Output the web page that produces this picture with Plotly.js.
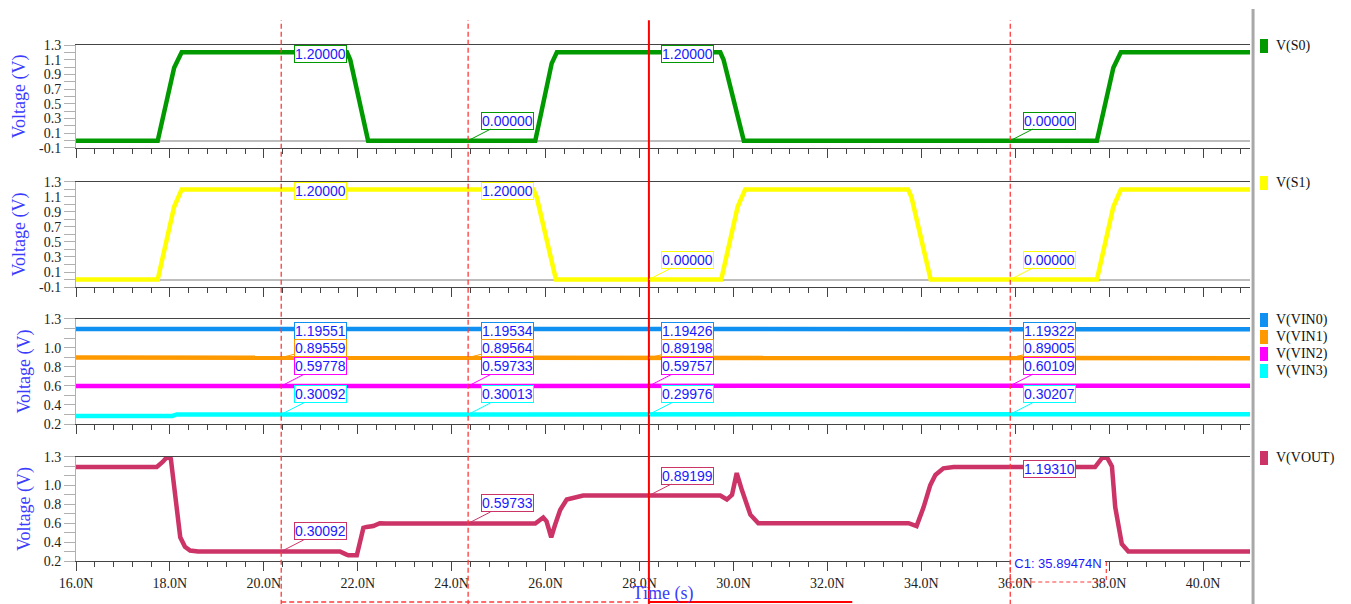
<!DOCTYPE html>
<html>
<head>
<meta charset="utf-8">
<script src="https://cdn.plot.ly/plotly-3.0.1.min.js"></script>
<style>html,body{margin:0;padding:0;background:#fff}#chart{width:1351px;height:604px}</style>
</head>
<body>
<div id="chart"></div>
<script>
// ---------- data (time in ns, voltage in V) ----------
const seriesNames = ['V(S0)', 'V(S1)', 'V(VIN0)', 'V(VIN1)', 'V(VIN2)', 'V(VIN3)', 'V(VOUT)'];
const seriesColors = ['#009a00', '#ffff00', '#1090f0', '#ff9900', '#ff00ff', '#00ffff', '#cc3366'];

const s0T = [16, 17.74, 18.09, 18.25, 21.77, 21.84, 22.22, 25.78, 26.13, 26.24, 29.72, 29.79, 30.22, 37.74, 38.09, 38.25, 41];
const s0V = [0, 0, 0.99, 1.2, 1.2, 1.1, 0, 0, 1.05, 1.2, 1.2, 1.1, 0, 0, 0.99, 1.2, 1.2];

const s1T = [16, 17.74, 18.09, 18.25, 25.74, 25.81, 26.22, 29.74, 30.09, 30.25, 33.72, 33.79, 34.2, 37.74, 38.09, 38.25, 41];
const s1V = [0, 0, 0.97, 1.2, 1.2, 1.1, 0, 0, 0.97, 1.2, 1.2, 1.1, 0, 0, 0.97, 1.2, 1.2];

const vin0T = [16, 20.37, 24.35, 28.2, 35.89, 41];
const vin0V = [1.1957, 1.19551, 1.19534, 1.19426, 1.19322, 1.193];

const vin1T = [16, 20.37, 24.35, 26.25, 26.35, 28.2, 29.85, 29.95, 30.1, 35.89, 41];
const vin1V = [0.8955, 0.89559, 0.89564, 0.8956, 0.8915, 0.89198, 0.892, 0.898, 0.891, 0.89005, 0.89];

const vin2T = [16, 20.37, 24.35, 28.2, 35.89, 41];
const vin2V = [0.598, 0.59778, 0.59733, 0.59757, 0.60109, 0.601];

const vin3T = [16, 18.05, 18.15, 20.37, 24.35, 28.2, 35.89, 41];
const vin3V = [0.285, 0.285, 0.300, 0.30092, 0.30013, 0.29976, 0.30207, 0.302];

const voutT = [16, 17.72, 17.85, 17.94, 18.02, 18.13, 18.22, 18.32, 18.43, 18.6, 21.62, 21.75, 21.8, 21.98, 22.12, 22.19, 22.33, 22.47, 22.6,
  25.78, 25.95, 26.02, 26.12, 26.2, 26.31, 26.45, 26.59, 26.8, 29.72, 29.86, 29.97, 30.07, 30.18, 30.36, 30.53,
  33.73, 33.9, 34.05, 34.19, 34.3, 34.47, 34.69, 37.7, 37.85, 37.95, 38.06, 38.13, 38.2, 38.27, 38.41, 41];
const voutV = [1.195, 1.195, 1.25, 1.3, 1.28, 0.85, 0.45, 0.35, 0.31, 0.301, 0.301, 0.27, 0.26, 0.26, 0.55, 0.56, 0.57, 0.6, 0.597,
  0.597, 0.66, 0.62, 0.45, 0.58, 0.74, 0.85, 0.87, 0.892, 0.892, 0.85, 0.9, 1.13, 0.95, 0.69, 0.6,
  0.6, 0.57, 0.77, 1.0, 1.11, 1.18, 1.193, 1.193, 1.29, 1.3, 1.2, 0.77, 0.56, 0.38, 0.3, 0.3];

// cursors
const cursorTimes = [20.37, 24.35, 28.2, 35.89474];
const s0Cursor = [1.2, 0, 1.2, 0];
const s1Cursor = [1.2, 1.2, 0, 0];
const vin0Cursor = [1.19551, 1.19534, 1.19426, 1.19322];
const vin1Cursor = [0.89559, 0.89564, 0.89198, 0.89005];
const vin2Cursor = [0.59778, 0.59733, 0.59757, 0.60109];
const vin3Cursor = [0.30092, 0.30013, 0.29976, 0.30207];
const voutCursor = [0.30092, 0.59733, 0.89199, 1.19310];
const activeCursorLabel = 'C1: 35.89474N';

// ticks
const xTickVals = [16, 18, 20, 22, 24, 26, 28, 30, 32, 34, 36, 38, 40];
const xTickText = ['16.0N', '18.0N', '20.0N', '22.0N', '24.0N', '26.0N', '28.0N', '30.0N', '32.0N', '34.0N', '36.0N', '38.0N', '40.0N'];
const yTickValsA = [-0.1, 0.1, 0.3, 0.5, 0.7, 0.9, 1.1, 1.3];
const yTickTextA = ['-0.1', '0.1', '0.3', '0.5', '0.7', '0.9', '1.1', '1.3'];
const yTickValsB = [0.2, 0.4, 0.6, 0.8, 1.0, 1.3];
const yTickTextB = ['0.2', '0.4', '0.6', '0.8', '1.0', '1.3'];
const yMinorB = [0.3, 0.5, 0.7, 0.9, 1.1, 1.2];

// ---------- build ----------
const panelSeries = [
  [{t: s0T, v: s0V, c: s0Cursor, i: 0}],
  [{t: s1T, v: s1V, c: s1Cursor, i: 1}],
  [{t: vin0T, v: vin0V, c: vin0Cursor, i: 2}, {t: vin1T, v: vin1V, c: vin1Cursor, i: 3},
   {t: vin2T, v: vin2V, c: vin2Cursor, i: 4}, {t: vin3T, v: vin3V, c: vin3Cursor, i: 5}],
  [{t: voutT, v: voutV, c: voutCursor, i: 6}]
];
const domains = [[0.8004, 1], [0.531, 0.7345], [0.2655, 0.469], [0, 0.2016]];

const serif = 'Liberation Serif, Times New Roman, serif';
const sans = 'Liberation Sans, Arial, sans-serif';
const blue = '#1a1aff';

const traces = [];
const annotations = [];
const shapes = [];
const layout = {
  width: 1351, height: 604,
  margin: {l: 76, r: 101, t: 45, b: 43},
  paper_bgcolor: '#ffffff', plot_bgcolor: '#ffffff',
  showlegend: false,
  annotations: annotations,
  shapes: shapes
};

panelSeries.forEach((list, p) => {
  const k = p === 0 ? '' : String(p + 1);
  const xa = 'x' + k, ya = 'y' + k;
  list.forEach(s => {
    traces.push({
      x: s.t, y: s.v, xaxis: xa, yaxis: ya, type: 'scatter', mode: 'lines',
      line: {color: seriesColors[s.i], width: 4.5}, hoverinfo: 'skip', name: seriesNames[s.i]
    });
    // cursor value boxes
    s.c.forEach((val, ci) => {
      let ay = val > 1.1 ? 2 : -20;
      if (s.i === 3) ay = -10;
      annotations.push({
        x: cursorTimes[ci], y: val, xref: xa, yref: ya,
        text: val.toFixed(5), showarrow: true, arrowhead: 0, arrowwidth: 1,
        arrowcolor: seriesColors[s.i], ax: 39, ay: ay, standoff: 0,
        bgcolor: '#ffffff', bordercolor: seriesColors[s.i], borderwidth: 1, borderpad: 0,
        font: {family: sans, size: 14, color: blue}
      });
    });
    // legend entry
    const li = list.indexOf(s);
    shapes.push({
      type: 'rect', xref: 'paper', yref: ya + ' domain',
      xsizemode: 'pixel', ysizemode: 'pixel', xanchor: 1.0085, yanchor: 1,
      x0: 0, x1: 8, y0: -8 - 17 * li, y1: 6 - 17 * li,
      fillcolor: seriesColors[s.i], line: {width: 0}
    });
    annotations.push({
      x: 1.0205, y: 1, xref: 'paper', yref: ya + ' domain', xanchor: 'left', yanchor: 'middle',
      yshift: -1 - 17 * li, text: seriesNames[s.i], showarrow: false,
      font: {family: serif, size: 14, color: '#111'}
    });
  });
  const isBottom = p === 3;
  layout['xaxis' + k] = {
    domain: [0, 1], anchor: ya, range: [16, 41], showgrid: false, zeroline: false,
    showline: true, linecolor: '#444', linewidth: 1.3, mirror: true,
    ticks: 'outside', ticklen: 9, tickcolor: '#444', tickwidth: 1,
    tickmode: 'array', tickvals: xTickVals, ticktext: xTickText,
    showticklabels: isBottom,
    tickfont: {family: serif, size: 14, color: '#222'},
    minor: {tickmode: 'linear', tick0: 16, dtick: 0.4, ticks: 'outside', ticklen: 5, tickcolor: '#444', showgrid: false},
    title: isBottom ? {text: 'Time (s)', font: {family: serif, size: 18, color: '#3c3cff'}, standoff: 4} : {text: ''}
  };
  const typeA = p < 2;
  layout['yaxis' + k] = {
    domain: domains[p], anchor: xa,
    range: typeA ? [-0.1, 1.3] : [0.2, 1.3],
    showgrid: false,
    zeroline: typeA, zerolinecolor: '#bdbdbd', zerolinewidth: 2,
    showline: true, linecolor: '#b0b0b0', linewidth: 1,
    ticks: 'outside', ticklen: 11, tickcolor: '#b0b0b0', tickwidth: 1,
    tickmode: 'array',
    tickvals: typeA ? yTickValsA : yTickValsB,
    ticktext: typeA ? yTickTextA : yTickTextB,
    tickfont: {family: serif, size: 14, color: '#222'},
    minor: typeA
      ? {tickmode: 'linear', tick0: -0.1, dtick: 0.1, ticks: 'outside', ticklen: 11, tickcolor: '#b0b0b0', showgrid: false}
      : {tickmode: 'array', tickvals: yMinorB, ticks: 'outside', ticklen: 11, tickcolor: '#b0b0b0', showgrid: false},
    title: {text: 'Voltage (V)', font: {family: serif, size: 18, color: '#3c3cff'}, standoff: 8}
  };
});

// cursors
cursorTimes.forEach((t, ci) => {
  const solid = ci === 2;
  shapes.push({
    type: 'line', xref: 'x4', yref: 'paper', x0: t, x1: t, y0: -0.085, y1: 1.048, layer: 'above',
    line: solid ? {color: '#ff0000', width: 2} : {color: '#ff3b3b', width: 1.3, dash: '5px,3px'}
  });
});
shapes.push({type: 'line', xref: 'x4', yref: 'paper', x0: cursorTimes[0], x1: 28.0, y0: -0.0795, y1: -0.0795, layer: 'above',
  line: {color: '#ff3b3b', width: 1.3, dash: '5px,3px'}});
shapes.push({type: 'line', xref: 'x4', yref: 'paper', x0: cursorTimes[2], x1: 32.53, y0: -0.0795, y1: -0.0795, layer: 'above',
  line: {color: '#ff0000', width: 2}});
// active cursor label: white box covering the tick labels, then dashed outline
annotations.push({x: (cursorTimes[3] + 37.94) / 2, y: -0.0213, xref: 'x4', yref: 'paper', text: activeCursorLabel,
  showarrow: false, width: 94, height: 18, bgcolor: '#ffffff', borderpad: 0, borderwidth: 0,
  font: {family: sans, size: 13, color: blue}});
shapes.push({type: 'rect', xref: 'x4', yref: 'paper', x0: cursorTimes[3], x1: 37.94, y0: -0.0407, y1: -0.002, layer: 'above',
  fillcolor: 'rgba(0,0,0,0)', line: {color: '#ff3b3b', width: 1.2, dash: '4px,3px'}});
// right separator
shapes.push({type: 'line', xref: 'paper', yref: 'paper', x0: 1.0026, x1: 1.0026, y0: -0.1, y1: 1.07,
  line: {color: '#a8a8a8', width: 3}});

Plotly.newPlot('chart', traces, layout, {displayModeBar: false, staticPlot: true});
</script>
</body>
</html>
